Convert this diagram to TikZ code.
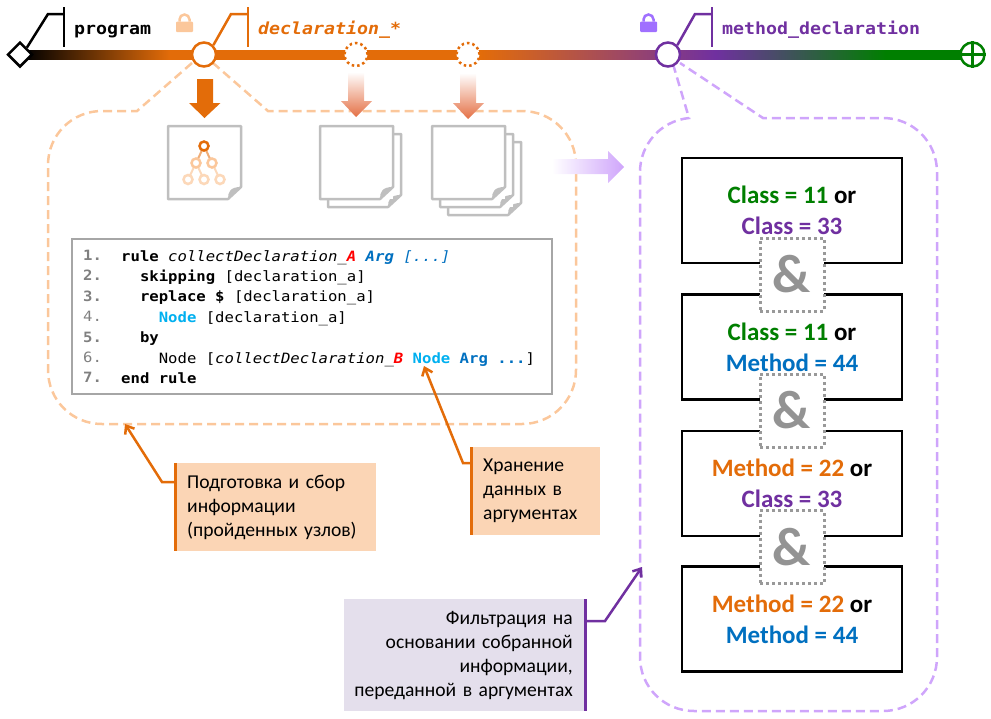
\documentclass[tikz,border=0pt]{standalone}
\usepackage{fontspec}
\setmainfont{Carlito}
\newfontfamily\cons[FakeStretch=1.1]{DejaVu Sans Mono}
\usetikzlibrary{shapes.geometric,arrows.meta}
\definecolor{org}{HTML}{E36C09}
\definecolor{lorg}{HTML}{FBC79B}
\definecolor{forg}{HTML}{FBD5B5}
\definecolor{pur}{HTML}{7030A0}
\definecolor{lpur}{HTML}{CFA5FB}
\definecolor{fpur}{HTML}{E4DFEC}
\definecolor{grn}{HTML}{007F00}
\definecolor{blu}{HTML}{0070C0}
\definecolor{sky}{HTML}{00B0F0}
\definecolor{docg}{HTML}{BFBFBF}
\definecolor{arrowend}{HTML}{E47045}
\definecolor{lockp}{HTML}{A070FF}
\pgfdeclarehorizontalshading{mainline}{100bp}{color(0bp)=(black); color(25bp)=(black); color(32.78bp)=(org); color(49.3bp)=(org); color(61.85bp)=(pur); color(70.95bp)=(grn); color(100bp)=(grn)}
\tikzset{
 hub/.style={circle,draw,fill=white,line width=2.5pt,minimum size=24pt,inner sep=0pt},
 hollow/.style={circle,draw=org,fill=white,line width=2.5pt,minimum size=23pt,inner sep=0pt,dash pattern=on 2.5pt off 3pt},
 flag/.style={line width=2.5pt},
 lbl/.style={anchor=base west,inner sep=0pt,font=\cons\bfseries\fontsize{16.6}{20}\selectfont},
 dashbub/.style={line width=2.5pt,dash pattern=on 9pt off 5pt},
 cond/.style={draw=black,line width=2.5pt,fill=white,minimum width=220pt,minimum height=105pt,inner sep=0pt,align=center,font=\bfseries\fontsize{25}{31}\selectfont},
 amp/.style={draw=gray!80,fill=white,line width=3pt,dash pattern=on 3pt off 3pt,minimum width=64pt,minimum height=73pt,inner sep=0pt,text=gray!85,font=\bfseries\fontsize{54}{54}\selectfont},
 note/.style={inner sep=0pt,font=\fontsize{19.6}{24}\selectfont},
 lead/.style={line width=2.5pt,-{Straight Barb[length=7pt,width=11pt,line width=2.5pt]}},
 treeln/.style={line width=2pt},
 treend/.style={circle,draw,fill=white,line width=2.5pt,minimum size=9pt,inner sep=0pt},
 codetxt/.style={anchor=north west,inner sep=0pt,align=left,font=\cons\fontsize{14.2}{20.4}\selectfont},
}
\newcommand{\rgap}{\hbox to 4pt{\hss}}
\newcommand{\sheet}[2]{%
 \fill[white] (#1,#2) rectangle ++(73,73);
 \draw[docg,line width=2.5pt,line join=round] (#1,#2) -- ++(73,0) -- ++(0,61) -- ++(-13,12) -- ++(-60,0) -- cycle;
 \fill[docg] (#1+60,#2+73) .. controls (#1+60,#2+66) and (#1+62,#2+61) .. (#1+73,#2+61) -- cycle;
}
\newcommand{\lockicon}[3]{%
 \draw[#3,line width=2.5pt] (#1-5,#2-4) -- (#1-5,#2-6) arc (180:360:5) -- (#1+5,#2-4);
 \fill[#3,rounded corners=1pt] (#1-8.5,#2-4) rectangle (#1+8.5,#2+6.5);
}
\begin{document}
\begin{tikzpicture}[x=1pt,y=-1pt]
\useasboundingbox (0,0) rectangle (991,718);
% main line
\shade[shading=mainline] (24,50) rectangle (962,59);
% bubbles
\draw[lorg,dashbub] (192,63) -- (137,111) -- (102,111) .. controls (72,111) and (48,135) .. (48,165) -- (48,370) .. controls (48,400) and (72,424) .. (102,424) -- (522,424) .. controls (552,424) and (576,400) .. (576,370) -- (576,165) .. controls (576,135) and (552,111) .. (522,111) -- (268,111) -- (213,63);
\draw[lpur,dashbub] (673,64) -- (689,118) .. controls (660,121) and (640,145) .. (640,172) -- (640,657) .. controls (640,687) and (664,711) .. (694,711) -- (883,711) .. controls (913,711) and (937,687) .. (937,657) -- (937,172) .. controls (937,142) and (913,118) .. (883,118) -- (763,118) -- (680,63);
% line nodes
\node[diamond,draw=black,fill=white,line width=2.5pt,minimum size=25pt,inner sep=0pt] (start) at (20,54.5) {};
\node[hub,draw=org] (hubdecl) at (204,54.5) {};
\node[hollow] (hollowa) at (356,54.5) {};
\node[hollow] (hollowb) at (468,54.5) {};
\node[hub,draw=pur] (hubmeth) at (668,54.5) {};
\node[hub,draw=grn] (finish) at (972.5,54.5) {};
\draw[grn,line width=2.5pt] (finish.north) -- (finish.south) (finish.west) -- (finish.east);
% flags
\coordinate (barp) at (64,14);
\coordinate (bard) at (248,14);
\coordinate (barm) at (712,14);
\draw[black,flag] (start.north east) -- (48,14) -- (barp);
\draw[black,flag] (64,7) -- (64,47);
\draw[org,flag] (hubdecl.north east) -- (231,14) -- (bard);
\draw[org,flag] (248,7) -- (248,47);
\draw[pur,flag] (hubmeth.north east) -- (695,14) -- (barm);
\draw[pur,flag] (712,7) -- (712,47);
\node[lbl,text=black] (lprog) at (74,34) {program};
\node[lbl,text=org] (ldecl) at (258,34) {\itshape declaration\_*};
\node[lbl,text=pur] (lmeth) at (722,34) {method\_declaration};
\lockicon{184.5}{25.5}{lorg}
\lockicon{648.5}{25.5}{lockp}
% down arrows
\fill[org] (197,79) -- (213,79) -- (213,103) -- (220.5,103) -- (204.5,118) -- (189,103) -- (197,103) -- cycle;
\shade[top color=white,bottom color=arrowend] (348,72) -- (364,72) -- (364,101) -- (372,101) -- (356,117) -- (341,101) -- (348,101) -- cycle;
\shade[top color=white,bottom color=arrowend] (460,73) -- (476,73) -- (476,103) -- (484,103) -- (468,119) -- (453,103) -- (460,103) -- cycle;
% right arrow
\shade[left color=white,right color=lpur] (552,159) -- (608,159) -- (608,151) -- (624,167) -- (608,183) -- (608,174) -- (552,174) -- cycle;
% sheets
\sheet{168}{126}
\sheet{328}{134}
\sheet{320}{126}
\sheet{448}{142}
\sheet{440}{134}
\sheet{432}{126}
% tree
\coordinate (ta) at (204,146);
\coordinate (tb) at (196,163);
\coordinate (tc) at (212,163);
\coordinate (td) at (188,179.5);
\coordinate (te) at (204,179.5);
\coordinate (tf) at (220,179.5);
\draw[treeln,org!55!white] (ta) -- (tb) (ta) -- (tc);
\draw[treeln,lorg!70!white] (tb) -- (td) (tb) -- (te) (tc) -- (tf);
\node[treend,draw=lorg] (nb) at (tb) {};
\node[treend,draw=lorg] (nc) at (tc) {};
\node[treend,draw=lorg!70!white] (nd) at (td) {};
\node[treend,draw=lorg!70!white] (ne) at (te) {};
\node[treend,draw=lorg!70!white] (nf) at (tf) {};
\node[treend,draw=org] (na) at (ta) {};
% code
\draw[fill=white,draw=gray!70,line width=2pt] (72,239) rectangle (552,394);
\node[codetxt,text=gray] (nums) at (83,250) {\textbf{1.}\\\textbf{2.}\\\textbf{3.}\\4.\\\textbf{5.}\\6.\\\textbf{7.}};
\node[codetxt] (code) at (121,250) {\textbf{rule} \textit{collectDeclaration\_}\textcolor{red}{\textbf{\textit{A}}} \textcolor{blu}{\textbf{\textit{Arg}} \textit{[...]}}\\
\ \ \textbf{skipping} [declaration\_a]\\
\ \ \textbf{replace \$} [declaration\_a]\\
\ \ \ \ \textcolor{sky}{\textbf{Node}} [declaration\_a]\\
\ \ \textbf{by}\\
\ \ \ \ Node [\textit{collectDeclaration\_}\textcolor{red}{\textbf{\textit{B}}} \textcolor{sky}{\textbf{Node}} \textcolor{blu}{\textbf{Arg ...}}]\\
\textbf{end rule}};
% condition boxes
\node[cond] (c1) at (792,210.5) {\textcolor{grn}{Class = 11} or\\\textcolor{pur}{Class = 33}};
\node[cond] (c2) at (792,347) {\textcolor{grn}{Class = 11} or\\\textcolor{blu}{Method = 44}};
\node[cond] (c3) at (792,483.5) {\textcolor{org}{Method = 22} or\\\textcolor{pur}{Class = 33}};
\node[cond] (c4) at (792,619) {\textcolor{org}{Method = 22} or\\\textcolor{blu}{Method = 44}};
\node[amp] (a1) at (792,274.5) {\&};
\node[amp] (a2) at (792,410.5) {\&};
\node[amp] (a3) at (792,547) {\&};
% notes
\coordinate (t1) at (125,424);
\coordinate (t2) at (424,366);
\coordinate (t3) at (642,567);
\node[note,fill=forg,anchor=north west,minimum width=201pt,minimum height=88pt,align=left,text width=177pt,inner xsep=12pt] (n1) at (175,463) {Подготовка и сбор\\информации\\(пройденных узлов)};
\node[note,fill=forg,anchor=north west,minimum width=129pt,minimum height=88pt,align=left,text width=105pt,inner xsep=12pt] (n2) at (471,447) {Хранение\\данных в\\аргументах};
\node[note,fill=fpur,anchor=north east,minimum width=241pt,minimum height=112pt,align=right,text width=225pt,inner xsep=8pt] (n3) at (585,599) {Фильтрация на\rgap\\основании собранной\rgap\\информации,\rgap\\переданной в аргументах\rgap};
\draw[org,line width=3pt] (n1.north west) -- (n1.south west);
\draw[org,line width=3pt] (n2.north west) -- (n2.south west);
\draw[pur,line width=3pt] (n3.north east) -- (n3.south east);
\draw[org,lead] ([yshift=-19pt]n1.north west) -- (162,482) -- (t1);
\draw[org,lead] ([yshift=-16pt]n2.north west) -- (463,463) -- (t2);
\draw[pur,lead] ([yshift=-22pt]n3.north east) -- (605,621) -- (t3);
\end{tikzpicture}
\end{document}
